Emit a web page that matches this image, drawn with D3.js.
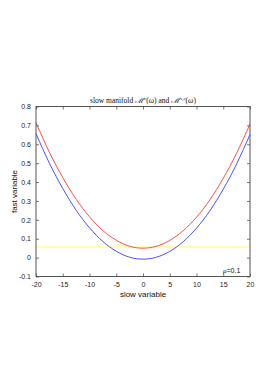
<!DOCTYPE html>
<html>
<head>
<meta charset="utf-8">
<script src="https://cdn.jsdelivr.net/npm/d3@7"></script>
<style>
  body { margin: 0; background: #fff; }
  svg { display: block; }
</style>
</head>
<body>
<div id="chart"></div>
<script>
// values
const slowVar = [-20, -17.5, -15, -12.5, -10, -7.5, -5, -2.5, 0, 2.5, 5, 7.5, 10, 12.5, 15, 17.5, 20];
const manifoldC = [0.714, 0.558, 0.424, 0.309, 0.216, 0.143, 0.092, 0.060, 0.050, 0.060, 0.091, 0.142, 0.214, 0.306, 0.420, 0.553, 0.707];
const manifoldSC = [0.656, 0.500, 0.366, 0.251, 0.158, 0.085, 0.034, 0.002, -0.008, 0.002, 0.033, 0.084, 0.156, 0.248, 0.362, 0.496, 0.652];
const levelY = 0.057;
const xTicks = [-20, -15, -10, -5, 0, 5, 10, 15, 20];
const yTicks = [-0.1, 0, 0.1, 0.2, 0.3, 0.4, 0.5, 0.6, 0.7, 0.8];

const W = 277, H = 392;
const plotL = 36, plotR = 250, plotT = 106.5, plotB = 276.5;

const svg = d3.select('#chart').append('svg')
  .attr('width', W).attr('height', H);

const x = d3.scaleLinear().domain([-20, 20]).range([plotL, plotR]);
const y = d3.scaleLinear().domain([-0.1, 0.8]).range([plotB, plotT]);

const line = d3.line()
  .x((d, i) => x(slowVar[i]))
  .y(d => y(d))
  .curve(d3.curveNatural);

// curves first, axes on top
svg.append('line')
  .attr('x1', x(-20)).attr('x2', x(20))
  .attr('y1', y(levelY)).attr('y2', y(levelY))
  .attr('stroke', '#ffff70').attr('stroke-width', 1);

svg.append('path').datum(manifoldC)
  .attr('d', line).attr('fill', 'none')
  .attr('stroke', '#ff3b3b').attr('stroke-width', 0.9);

svg.append('path').datum(manifoldSC)
  .attr('d', line).attr('fill', 'none')
  .attr('stroke', '#3b3bff').attr('stroke-width', 0.9);

const axisColor = '#555';
const tickFont = '"Liberation Sans", Arial, sans-serif';
// matlab style labels: plain hyphen, "0" not "0.0"
const fmtX = d => String(d);
const fmtY = d => String(+d.toFixed(1));

function styleAxis(g) {
  g.select('.domain').remove();
  g.selectAll('.tick line').attr('stroke', axisColor).attr('stroke-width', 0.8);
  g.selectAll('.tick text')
    .attr('fill', '#222')
    .style('font-family', tickFont)
    .style('font-size', '7px');
}

// bottom + top
svg.append('g').attr('transform', `translate(0,${plotB})`)
  .call(d3.axisBottom(x).tickValues(xTicks).tickSize(-3).tickPadding(6).tickFormat(fmtX))
  .call(styleAxis);
svg.append('g').attr('transform', `translate(0,${plotT})`)
  .call(d3.axisTop(x).tickValues(xTicks).tickSize(-3).tickFormat(''))
  .call(styleAxis);
// left + right
svg.append('g').attr('transform', `translate(${plotL},0)`)
  .call(d3.axisLeft(y).tickValues(yTicks).tickSize(-3).tickPadding(5).tickFormat(fmtY))
  .call(styleAxis);
svg.append('g').attr('transform', `translate(${plotR},0)`)
  .call(d3.axisRight(y).tickValues(yTicks).tickSize(-3).tickFormat(''))
  .call(styleAxis);

svg.append('rect')
  .attr('x', plotL).attr('y', plotT)
  .attr('width', plotR - plotL).attr('height', plotB - plotT)
  .attr('fill', 'none').attr('stroke', axisColor).attr('stroke-width', 1);

// title
const title = svg.append('text')
  .attr('x', (plotL + plotR) / 2).attr('y', plotT - 4)
  .attr('text-anchor', 'middle')
  .style('font-family', '"Liberation Serif", "DejaVu Serif", serif')
  .style('font-size', '7.5px')
  .attr('fill', '#111');
title.append('tspan').text('slow manifold ');
title.append('tspan').style('font-style', 'italic').text('\u2133');
title.append('tspan').attr('dy', -3).style('font-size', '5px').style('font-style', 'italic').text('c');
title.append('tspan').attr('dy', 3).text('(');
title.append('tspan').style('font-style', 'italic').text('\u03c9');
title.append('tspan').text(') and ');
title.append('tspan').style('font-style', 'italic').text('\u2133');
title.append('tspan').attr('dy', -3).style('font-size', '5px').style('font-style', 'italic').text('s,c');
title.append('tspan').attr('dy', 3).text('(');
title.append('tspan').style('font-style', 'italic').text('\u03c9');
title.append('tspan').text(')');

// axis labels
svg.append('text')
  .attr('x', (plotL + plotR) / 2).attr('y', 297)
  .attr('text-anchor', 'middle')
  .style('font-family', tickFont).style('font-size', '8px').attr('fill', '#111')
  .text('slow variable');

svg.append('text')
  .attr('transform', `translate(17,${(plotT + plotB) / 2}) rotate(-90)`)
  .attr('text-anchor', 'middle')
  .style('font-family', tickFont).style('font-size', '8px').attr('fill', '#111')
  .text('fast variable');

// parameter note
const note = svg.append('text')
  .attr('x', 223).attr('y', 273)
  .style('font-family', tickFont).style('font-size', '7px').attr('fill', '#111');
note.append('tspan').style('font-family', '"Liberation Serif", serif').style('font-style', 'italic').text('\u03bc');
note.append('tspan').text('=0.1');
</script>
</body>
</html>
